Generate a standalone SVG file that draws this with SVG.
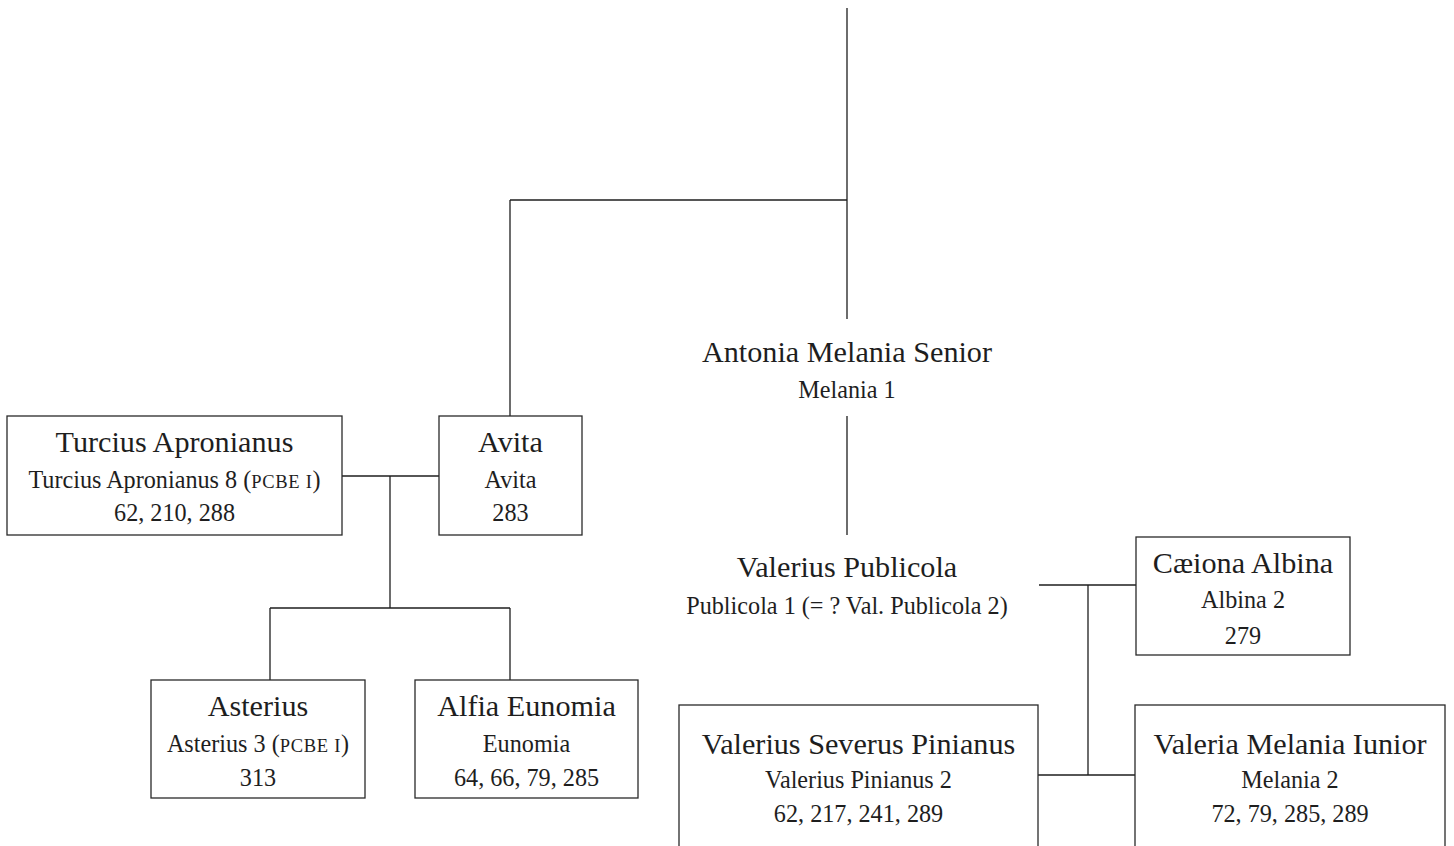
<svg xmlns="http://www.w3.org/2000/svg" width="1454" height="846" viewBox="0 0 1454 846">
<style>
  .box { fill: #ffffff; stroke: #2a2a2a; stroke-width: 1.3; }
  .ln { fill: none; stroke: #1e1e1e; stroke-width: 1.3; }
  text { font-family: "Liberation Serif", "Times New Roman", serif; fill: #1e1e1e; text-anchor: middle; }
  .t { font-size: 30.2px; }
  .s { font-size: 24.2px; }
  .sc { font-size: 18.5px; letter-spacing: 0.7px; }
</style>
<rect x="0" y="0" width="1454" height="846" fill="#ffffff"/>
<g id="connectors">
  <path class="ln" d="M847 8 V319"/>
  <path class="ln" d="M510 200 H847"/>
  <path class="ln" d="M510 200 V416"/>
  <path class="ln" d="M342 476 H439"/>
  <path class="ln" d="M390 476 V608"/>
  <path class="ln" d="M270 608 H510"/>
  <path class="ln" d="M270 608 V680"/>
  <path class="ln" d="M510 608 V680"/>
  <path class="ln" d="M847 416 V535"/>
  <path class="ln" d="M1039 585 H1136"/>
  <path class="ln" d="M1088 585 V775"/>
  <path class="ln" d="M1038 775 H1135"/>
</g>
<g id="turcius">
  <rect class="box" x="7" y="416" width="335" height="119"/>
  <text class="t" x="174.5" y="452">Turcius Apronianus</text>
  <text class="s" x="174.5" y="488">Turcius Apronianus 8 (<tspan class="sc">PCBE I</tspan>)</text>
  <text class="s" x="174.5" y="521">62, 210, 288</text>
</g>
<g id="avita">
  <rect class="box" x="439" y="416" width="143" height="119"/>
  <text class="t" x="510.5" y="452">Avita</text>
  <text class="s" x="510.5" y="488">Avita</text>
  <text class="s" x="510.5" y="521">283</text>
</g>
<g id="asterius">
  <rect class="box" x="151" y="680" width="214" height="118"/>
  <text class="t" x="258" y="716">Asterius</text>
  <text class="s" x="258" y="752">Asterius 3 (<tspan class="sc">PCBE I</tspan>)</text>
  <text class="s" x="258" y="786">313</text>
</g>
<g id="alfia">
  <rect class="box" x="415" y="680" width="223" height="118"/>
  <text class="t" x="526.5" y="716">Alfia Eunomia</text>
  <text class="s" x="526.5" y="752">Eunomia</text>
  <text class="s" x="526.5" y="786">64, 66, 79, 285</text>
</g>
<g id="antonia">
  <text class="t" x="847" y="362">Antonia Melania Senior</text>
  <text class="s" x="847" y="398">Melania 1</text>
</g>
<g id="publicola">
  <text class="t" x="847" y="577">Valerius Publicola</text>
  <text class="s" x="847" y="614">Publicola 1 (= ? Val. Publicola 2)</text>
</g>
<g id="albina">
  <rect class="box" x="1136" y="537" width="214" height="118"/>
  <text class="t" x="1243" y="573">Cæiona Albina</text>
  <text class="s" x="1243" y="608">Albina 2</text>
  <text class="s" x="1243" y="644">279</text>
</g>
<g id="pinianus">
  <rect class="box" x="679" y="705" width="359" height="150"/>
  <text class="t" x="858.5" y="754">Valerius Severus Pinianus</text>
  <text class="s" x="858.5" y="788">Valerius Pinianus 2</text>
  <text class="s" x="858.5" y="822">62, 217, 241, 289</text>
</g>
<g id="melania2">
  <rect class="box" x="1135" y="705" width="310" height="150"/>
  <text class="t" x="1290" y="754">Valeria Melania Iunior</text>
  <text class="s" x="1290" y="788">Melania 2</text>
  <text class="s" x="1290" y="822">72, 79, 285, 289</text>
</g>
</svg>
